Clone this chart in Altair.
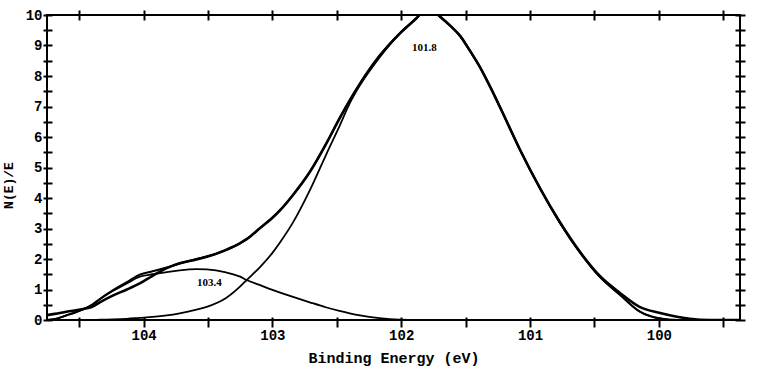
import altair as alt
import pandas as pd

# Binding energy grid (eV) shared by all traces
ENERGY = [104.75, 104.69, 104.60, 104.47, 104.40, 104.34, 104.24, 104.13, 104.03, 103.93,
          103.82, 103.72, 103.59, 103.51, 103.36, 103.25, 103.20, 103.10, 103.00, 102.94,
          102.84, 102.71, 102.58, 102.48, 102.40, 102.32, 102.17, 102.01, 101.88, 101.83,
          101.74, 101.70, 101.62, 101.54, 101.47, 101.39, 101.31, 101.23, 101.08, 100.92,
          100.77, 100.61, 100.46, 100.30, 100.15, 99.99, 99.85, 99.76, 99.60, 99.37]

# measured spectrum
DATA = [0.16, 0.20, 0.27, 0.36, 0.43, 0.58, 0.80, 1.00, 1.20, 1.45,
        1.70, 1.86, 1.98, 2.07, 2.30, 2.52, 2.65, 3.00, 3.35, 3.60,
        4.10, 4.85, 5.80, 6.60, 7.20, 7.75, 8.65, 9.40, 9.90, 10.10,
        10.10, 9.95, 9.65, 9.30, 8.85, 8.30, 7.65, 6.95, 5.60, 4.30,
        3.22, 2.22, 1.45, 0.88, 0.43, 0.23, 0.10, 0.04, 0.00, 0.00]

# fitted envelope
FIT = [0.00, 0.03, 0.15, 0.35, 0.50, 0.69, 0.97, 1.24, 1.49, 1.60,
       1.72, 1.85, 2.00, 2.08, 2.29, 2.52, 2.65, 3.00, 3.35, 3.60,
       4.10, 4.85, 5.80, 6.60, 7.20, 7.75, 8.65, 9.40, 9.90, 10.10,
       10.10, 9.95, 9.65, 9.30, 8.85, 8.30, 7.65, 6.95, 5.60, 4.30,
       3.20, 2.20, 1.42, 0.82, 0.28, 0.05, 0.00, 0.00, 0.00, 0.00]

# component at 101.8 eV
PEAK_101_8 = [0.00, 0.00, 0.00, 0.00, 0.00, 0.01, 0.02, 0.04, 0.07, 0.10,
              0.15, 0.22, 0.34, 0.43, 0.72, 1.10, 1.31, 1.72, 2.20, 2.55,
              3.20, 4.25, 5.45, 6.35, 7.10, 7.70, 8.60, 9.40, 9.90, 10.10,
              10.10, 9.95, 9.65, 9.30, 8.85, 8.30, 7.65, 6.95, 5.60, 4.30,
              3.20, 2.20, 1.42, 0.82, 0.28, 0.05, 0.00, 0.00, 0.00, 0.00]

# component at 103.4 eV
PEAK_103_4 = [0.00, 0.03, 0.15, 0.35, 0.50, 0.68, 0.95, 1.20, 1.42, 1.50,
              1.57, 1.63, 1.67, 1.66, 1.56, 1.42, 1.31, 1.15, 0.99, 0.90,
              0.76, 0.58, 0.41, 0.30, 0.22, 0.15, 0.06, 0.01, 0.00, 0.00,
              0.00, 0.00, 0.00, 0.00, 0.00, 0.00, 0.00, 0.00, 0.00, 0.00,
              0.00, 0.00, 0.00, 0.00, 0.00, 0.00, 0.00, 0.00, 0.00, 0.00]

PEAK_LABELS = ["101.8", "103.4"]
PEAK_LABEL_X = [101.82, 103.49]
PEAK_LABEL_Y = [8.93, 1.21]

X_TICKS = [99.5, 100, 100.5, 101, 101.5, 102, 102.5, 103, 103.5, 104, 104.5]
Y_TICKS = [0, 0.5, 1, 1.5, 2, 2.5, 3, 3.5, 4, 4.5, 5, 5.5, 6, 6.5, 7, 7.5, 8, 8.5, 9, 9.5, 10]

X_DOMAIN = [99.37, 104.75]
Y_DOMAIN = [0, 10]

FONT = "Liberation Mono"

def frame(values):
    return pd.DataFrame({"energy": ENERGY, "value": values})

xs = alt.Scale(domain=X_DOMAIN, reverse=True, nice=False, zero=False)
ys = alt.Scale(domain=Y_DOMAIN, nice=False, zero=False)

common_axis = dict(domain=False, grid=False, tickColor="black", tickWidth=2,
                   labelFont=FONT, labelFontWeight="bold", labelFontSize=14,
                   labelColor="black", titleFont=FONT, titleFontWeight="bold",
                   titleColor="black", labelOverlap=False, labelFlush=False)

x_bottom = alt.Axis(orient="bottom", values=X_TICKS,
                    labelExpr="datum.value % 1 == 0 ? format(datum.value, 'd') : ''",
                    tickSize=10, offset=-3, labelPadding=1,
                    title="Binding Energy (eV)", titleFontSize=15, titlePadding=8,
                    **common_axis)
x_top = alt.Axis(orient="top", values=X_TICKS, labels=False, tickSize=10, offset=-5,
                 title=None, **common_axis)
y_left = alt.Axis(orient="left", values=Y_TICKS,
                  labelExpr="datum.value % 1 == 0 ? format(datum.value, 'd') : ''",
                  tickSize=9, offset=-5, labelPadding=1,
                  title="N(E)/E", titleFontSize=13, titlePadding=10, titleY=170,
                  **common_axis)
y_right = alt.Axis(orient="right", values=Y_TICKS, labels=False, tickSize=10, offset=-5,
                   title=None, **common_axis)

def line_layer(values, width, xaxis=None, yaxis=None):
    return alt.Chart(frame(values)).mark_line(
        color="black", strokeWidth=width, clip=True, interpolate="monotone"
    ).encode(
        x=alt.X("energy:Q", scale=xs, axis=xaxis),
        y=alt.Y("value:Q", scale=ys, axis=yaxis),
    )

l_comp2 = line_layer(PEAK_103_4, 1.8, x_bottom, y_left)
l_comp1 = line_layer(PEAK_101_8, 1.8)
l_fit = line_layer(FIT, 2.0)
l_data = line_layer(DATA, 2.6, x_top, y_right)

labels = alt.Chart(pd.DataFrame({"label": PEAK_LABELS, "x": PEAK_LABEL_X, "y": PEAK_LABEL_Y})).mark_text(
    font="Liberation Serif", fontWeight="bold", fontSize=11, color="black"
).encode(
    x=alt.X("x:Q", scale=xs, axis=None),
    y=alt.Y("y:Q", scale=ys, axis=None),
    text="label:N",
)

chart = alt.layer(l_comp2, l_comp1, l_fit, l_data, labels).resolve_axis(
    x="independent", y="independent"
).properties(
    width=693, height=305,
    autosize=alt.AutoSizeParams(type="none"),
    padding={"left": 47, "top": 15, "right": 36, "bottom": 56},
    background="white",
).configure_view(stroke="black", strokeWidth=2)

chart.save("out.html", embed_options={"renderer": "svg", "actions": False})
